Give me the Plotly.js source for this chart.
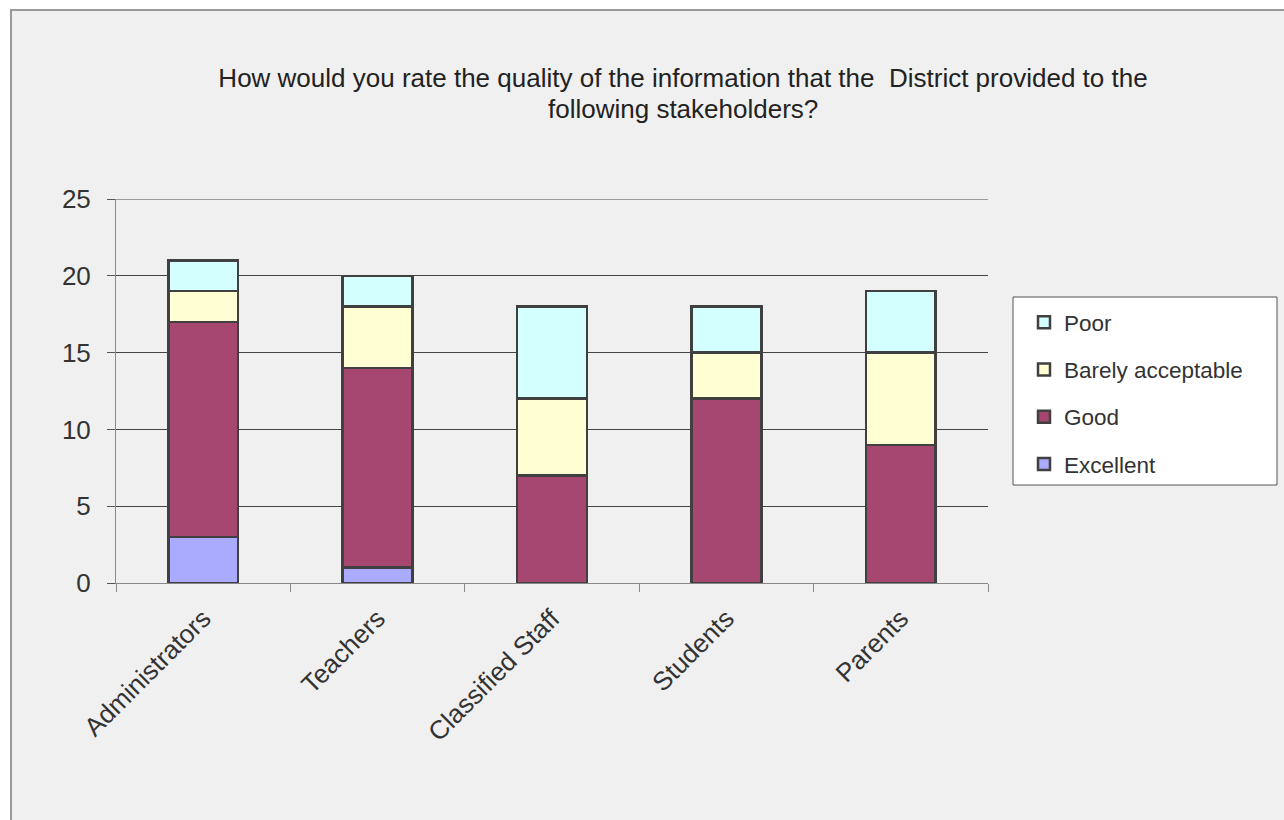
<!DOCTYPE html>
<html><head><meta charset="utf-8">
<script src="https://cdn.plot.ly/plotly-3.0.1.min.js"></script>
<style>
html,body{margin:0;padding:0;background:#ffffff;overflow:hidden;}
#frame{position:absolute;left:10px;top:9px;width:1274px;height:811px;border-left:2px solid #999;border-top:2px solid #999;background:#f0f0f0;}
#chart{position:absolute;left:-12px;top:-11px;width:1284px;height:820px;}
</style></head>
<body>
<div id="frame"><div id="chart"></div></div>
<script>
const categories = ["Administrators", "Teachers", "Classified Staff", "Students", "Parents"];
const excellent = [3, 1, 0, 0, 0];
const good = [14, 13, 7, 12, 9];
const barelyAcceptable = [2, 4, 5, 3, 6];
const poor = [2, 2, 6, 3, 4];
const seriesNames = ["Excellent", "Good", "Barely acceptable", "Poor"];
const seriesColors = ["#aaaaff", "#a6476f", "#ffffd3", "#d3ffff"];
const yTicks = [0, 5, 10, 15, 20, 25];
const titleLines = ["How would you rate the quality of the information that the  District provided to the", "following stakeholders?"];

const values = [excellent, good, barelyAcceptable, poor];
const traces = values.map((v, i) => ({
  type: "bar",
  x: categories,
  y: v,
  name: seriesNames[i],
  legendgroup: "g" + i,
  legendrank: values.length - i,
  marker: {color: seriesColors[i], line: {color: "#404040", width: 2.5}},
  hoverinfo: "x+y+name"
}));

const plotL = 116, plotR = 988, plotT = 199, plotB = 583;
const pw = plotR - plotL, ph = plotB - plotT;
const px = x => (x - plotL) / pw;
const py = y => (plotB - y) / ph;

const layout = {
  width: 1284, height: 820,
  paper_bgcolor: "rgba(0,0,0,0)",
  plot_bgcolor: "rgba(0,0,0,0)",
  barmode: "stack",
  bargap: 0.6,
  margin: {l: plotL, r: 1284 - plotR, t: plotT, b: 820 - plotB},
  font: {family: "Liberation Sans, Arial, sans-serif", color: "#333"},
  title: {
    text: titleLines[0],
    font: {size: 26, color: "#222"},
    xref: "container", x: 683 / 1284, xanchor: "center",
    yref: "container", y: 1 - 78 / 820, yanchor: "middle"
  },
  annotations: [{
    text: titleLines[1], showarrow: false,
    font: {size: 26, color: "#222"},
    xref: "paper", x: px(683), xanchor: "center",
    yref: "paper", y: py(108.5), yanchor: "middle"
  }],
  shapes: [
    {type: "rect", xref: "paper", yref: "paper", x0: px(1013), x1: px(1277), y0: py(485), y1: py(297),
     fillcolor: "#ffffff", line: {color: "#555", width: 1}, layer: "below"},
    {type: "line", xref: "paper", yref: "y", x0: 0, x1: 1, y0: yTicks[yTicks.length - 1], y1: yTicks[yTicks.length - 1],
     line: {color: "#444", width: 1}, layer: "below"}
  ],
  xaxis: {
    tickangle: -45,
    tickfont: {size: 26, color: "#333"},
    showline: true, linecolor: "#888", linewidth: 1,
    ticks: "outside", ticklen: 8, tickcolor: "#888",
    tickson: "boundaries",
    ticklabelstandoff: 9,
    showgrid: false
  },
  yaxis: {
    range: [0, 25],
    tickvals: yTicks,
    tickfont: {size: 26, color: "#333"},
    showgrid: true, gridcolor: "#444", gridwidth: 1,
    showline: true, linecolor: "#888", linewidth: 1,
    ticks: "outside", ticklen: 8, tickcolor: "#555",
    ticklabelstandoff: 11,
    zeroline: false
  },
  showlegend: true,
  legend: {
    x: px(1024), xanchor: "left",
    y: py(301), yanchor: "top",
    bgcolor: "rgba(0,0,0,0)",
    borderwidth: 0,
    font: {size: 22.5, color: "#333"},
    traceorder: "grouped",
    tracegroupgap: 15,
    itemwidth: 30
  }
};

Plotly.newPlot("chart", traces, layout, {displayModeBar: false, staticPlot: true});
</script>
</body></html>
